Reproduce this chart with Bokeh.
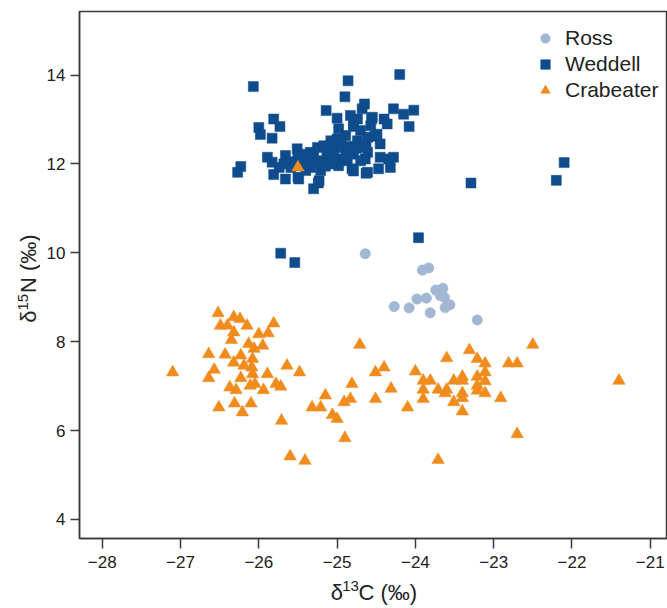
import math
from bokeh.plotting import figure
from bokeh.layouts import row, column
from bokeh.models import (ColumnDataSource, Range1d, FixedTicker, Legend, LegendItem)
from bokeh.core.properties import value
from bokeh.embed import file_html
from bokeh.resources import INLINE

# ---------------- data ----------------
ross_x = [-24.64, -23.91, -23.83, -23.74, -23.65, -23.68, -23.63, -23.98, -23.86,
          -24.27, -24.08, -23.81, -23.62, -23.56, -23.21]
ross_y = [9.98, 9.61, 9.66, 9.16, 9.20, 9.04, 9.00, 8.96, 8.98,
          8.79, 8.76, 8.65, 8.77, 8.83, 8.49]

weddell_x = [-26.07, -24.86, -24.20, -24.90, -25.14, -24.65, -24.68, -25.00, -24.83, -24.55,
             -24.40, -24.28, -24.15, -24.02, -24.08, -26.00, -25.98, -25.81, -25.73, -25.83,
             -26.23, -26.27, -25.89, -25.83, -25.81, -25.66, -25.68, -25.66, -25.51, -25.50,
             -25.50, -25.34, -25.25, -25.30, -25.23, -25.21, -25.34, -25.13, -25.08, -25.02,
             -25.00, -24.98, -24.89, -24.89, -24.87, -24.81, -24.74, -24.70, -24.61, -24.61,
             -24.64, -24.61, -24.49, -24.45, -24.45, -24.47, -24.34, -24.28, -24.32, -24.79,
             -24.74, -24.57, -24.36, -25.08, -25.17, -25.42, -25.40, -25.59, -25.74, -24.93,
             -24.98, -24.79, -24.70, -25.21, -25.04, -25.49, -25.24, -24.63, -24.79, -24.63,
             -24.52, -24.79, -24.56, -25.45, -25.38, -25.28, -25.15, -24.95, -24.85, -25.10,
             -24.75, -25.55, -25.30, -25.72, -25.54, -23.96, -23.29, -22.20, -22.10]
weddell_y = [13.74, 13.87, 14.01, 13.51, 13.20, 13.35, 13.24, 13.03, 13.09, 13.05,
             13.01, 13.24, 13.12, 13.21, 12.84, 12.82, 12.66, 13.01, 12.84, 12.58,
             11.94, 11.81, 12.15, 12.04, 11.76, 12.19, 12.00, 11.66, 12.34, 12.15,
             11.70, 12.26, 12.37, 11.44, 11.62, 12.07, 11.92, 12.22, 12.00, 12.37,
             12.56, 12.79, 12.64, 12.30, 12.07, 11.89, 12.52, 12.75, 12.60, 12.26,
             12.11, 11.81, 12.67, 12.45, 12.15, 11.89, 12.11, 12.15, 11.92, 12.90,
             13.01, 12.86, 12.90, 12.52, 12.41, 12.07, 11.85, 11.92, 11.92, 12.11,
             11.96, 12.22, 12.07, 11.85, 12.15, 11.66, 11.57, 11.79, 11.84, 12.38,
             12.62, 12.84, 13.01, 12.22, 12.15, 12.05, 11.95, 12.45, 12.40, 12.30,
             12.35, 12.05, 12.20, 9.99, 9.78, 10.34, 11.57, 11.63, 12.03]

crab_x = [-27.10, -26.52, -26.49, -26.40, -26.32, -26.24, -26.15, -26.32, -26.35, -25.81,
          -25.88, -26.00, -26.13, -25.95, -26.06, -26.64, -26.43, -26.23, -26.08, -26.32,
          -26.19, -26.09, -26.57, -26.64, -26.23, -26.08, -25.89, -25.64, -25.48, -26.37,
          -26.29, -26.11, -26.05, -25.94, -25.78, -25.72, -26.51, -26.31, -26.10, -26.21,
          -25.71, -25.60, -25.41, -25.32, -25.15, -25.21, -25.50, -24.71, -24.91, -24.83,
          -25.00, -25.06, -24.90, -24.81, -24.51, -24.40, -24.51, -24.31, -24.10, -24.00,
          -23.90, -23.81, -23.90, -23.90, -23.71, -23.60, -23.60, -23.62, -23.51, -23.40,
          -23.40, -23.40, -23.40, -23.51, -23.40, -23.31, -23.21, -23.21, -23.21, -23.21,
          -23.11, -23.11, -23.11, -23.11, -22.91, -22.81, -22.70, -22.50, -22.70, -23.71,
          -21.40]
crab_y = [7.31, 8.64, 8.36, 8.36, 8.55, 8.51, 8.36, 8.21, 8.04, 8.41,
          8.19, 8.17, 7.95, 7.91, 7.84, 7.72, 7.71, 7.69, 7.61, 7.53,
          7.46, 7.42, 7.37, 7.18, 7.18, 7.27, 7.27, 7.46, 7.31, 6.97,
          6.91, 7.01, 7.05, 6.91, 7.05, 6.99, 6.52, 6.61, 6.61, 6.41,
          6.22, 5.42, 5.32, 6.52, 6.79, 6.52, 11.92, 7.93, 6.64, 6.71,
          6.26, 6.35, 5.83, 7.05, 7.31, 7.42, 6.71, 6.94, 6.52, 7.33,
          7.12, 7.12, 6.92, 6.71, 6.92, 7.63, 6.92, 6.84, 7.12, 7.21,
          7.12, 6.84, 6.73, 6.64, 6.43, 7.81, 7.61, 7.21, 7.01, 6.90,
          7.51, 7.31, 7.11, 6.84, 6.73, 7.51, 7.51, 7.93, 5.92, 5.34,
          7.12]

x_ticks = [-28, -27, -26, -25, -24, -23, -22, -21]
x_tick_labels = ["\u221228", "\u221227", "\u221226", "\u221225", "\u221224", "\u221223", "\u221222", "\u221221"]
y_ticks = [4, 6, 8, 10, 12, 14]
y_tick_labels = ["4", "6", "8", "10", "12", "14"]

series_names = ["Ross", "Weddell", "Crabeater"]
# axis titles: delta, superscript mass number, rest
x_title = ["\u03b4", "13", "C (\u2030)"]
y_title = ["\u03b4", "15", "N (\u2030)"]

# ---------------- styling / layout ----------------
FONT = "Liberation Sans"
AXIS_COLOR = "#3a3a3a"
TEXT_COLOR = "#222222"
C_ROSS = "#a2b7d3"
C_WEDDELL = "#0f4c8d"
C_CRAB = "#f08c1e"

W, H = 667, 608
YW = 40            # strip for the y title
FL, FT, FB = 79, 11, 538   # frame left/top/bottom on the whole canvas
PH = 576           # main figure height; x-title strip below it

Y0, Y1 = 3.57, 15.43
p = figure(width=W - YW, height=PH, output_backend="svg", toolbar_location=None,
           x_range=Range1d(-28.29, -20.78), y_range=Range1d(Y0, Y1),
           min_border_left=FL - YW, min_border_right=0, min_border_top=FT,
           min_border_bottom=PH - FB)
# box around the plotting area (its right side falls on the window edge)
p.outline_line_color = AXIS_COLOR
p.outline_line_width = 1.5
p.outline_line_alpha = 1.0
p.xgrid.visible = False
p.ygrid.visible = False
p.background_fill_color = "white"
p.border_fill_color = "white"

src_w = ColumnDataSource(dict(x=weddell_x, y=weddell_y))
src_r = ColumnDataSource(dict(x=ross_x, y=ross_y))
src_c = ColumnDataSource(dict(x=crab_x, y=crab_y))

r_w = p.scatter("x", "y", source=src_w, marker="square", size=10,
                fill_color=C_WEDDELL, line_color=C_WEDDELL, line_width=0.5)
r_r = p.scatter("x", "y", source=src_r, marker="circle", size=10.5,
                fill_color=C_ROSS, line_color=C_ROSS, line_width=0.5)
r_c = p.scatter("x", "y", source=src_c, marker="triangle", size=12.5,
                fill_color=C_CRAB, line_color=C_CRAB, line_width=0.5)

for ax in (p.xaxis[0], p.yaxis[0]):
    ax.axis_line_color = AXIS_COLOR
    ax.axis_line_width = 1.5
    ax.major_tick_line_color = AXIS_COLOR
    ax.major_tick_line_width = 1.5
    ax.minor_tick_line_color = None
    ax.major_tick_in = 0
    ax.major_label_text_font = FONT
    ax.major_label_text_font_size = "17px"
    ax.major_label_text_color = TEXT_COLOR

p.xaxis.ticker = FixedTicker(ticks=x_ticks)
p.xaxis.major_label_overrides = dict(zip(x_ticks, x_tick_labels))
p.xaxis.major_tick_out = 10
p.xaxis.major_label_standoff = 7

p.yaxis.ticker = FixedTicker(ticks=y_ticks)
p.yaxis.major_label_overrides = dict(zip(y_ticks, y_tick_labels))
p.yaxis.major_tick_out = 9
p.yaxis.major_label_standoff = 5

legend = Legend(items=[LegendItem(label=series_names[0], renderers=[r_r]),
                       LegendItem(label=series_names[1], renderers=[r_w]),
                       LegendItem(label=series_names[2], renderers=[r_c])],
                location=(454, 435), orientation="vertical",
                border_line_color=None, background_fill_alpha=0,
                padding=0, margin=0, spacing=0,
                glyph_width=24, glyph_height=26, label_standoff=8,
                label_text_font=FONT, label_text_font_size="21px",
                label_text_color=TEXT_COLOR)
p.add_layout(legend)

# ---- x title strip (coordinates = canvas pixels)
xf = figure(width=W - YW, height=H - PH, output_backend="svg", toolbar_location=None,
            x_range=Range1d(YW, W), y_range=Range1d(H, PH),
            x_axis_location=None, y_axis_location=None, min_border=0,
            min_border_left=0, min_border_right=0, min_border_top=0, min_border_bottom=0)
xf.outline_line_color = None
xf.xgrid.visible = False
xf.ygrid.visible = False
xf.text(x=[308.0, 337.5], y=[592.0, 592.0], text=[x_title[0], x_title[2]],
        text_font=value(FONT), text_font_size="22px", text_color=TEXT_COLOR,
        text_align="left", text_baseline="alphabetic")
xf.text(x=[320.2], y=[585.7], text=[x_title[1]],
        text_font=value(FONT), text_font_size="15px", text_color=TEXT_COLOR,
        text_align="left", text_baseline="alphabetic")

# ---- y title strip (coordinates = canvas pixels)
yf = figure(width=YW, height=H, output_backend="svg", toolbar_location=None,
            x_range=Range1d(0, YW), y_range=Range1d(H, 0),
            x_axis_location=None, y_axis_location=None, min_border=0,
            min_border_left=0, min_border_right=0, min_border_top=0, min_border_bottom=0)
yf.outline_line_color = None
yf.xgrid.visible = False
yf.ygrid.visible = False
A = math.pi / 2
yf.text(x=[27.9, 27.9], y=[322.3, 292.6], text=[y_title[0], y_title[2]], angle=A,
        text_font=value(FONT), text_font_size="22px", text_color=TEXT_COLOR,
        text_align="left", text_baseline="alphabetic")
yf.text(x=[22.0], y=[310.1], text=[y_title[1]], angle=A,
        text_font=value(FONT), text_font_size="15px", text_color=TEXT_COLOR,
        text_align="left", text_baseline="alphabetic")

layout = row(yf, column(p, xf, spacing=0), spacing=0)
open("out.html", "w").write(file_html(layout, INLINE))
